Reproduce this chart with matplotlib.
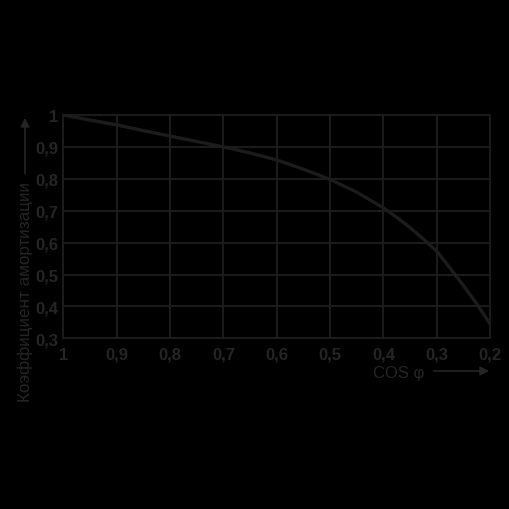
import matplotlib
matplotlib.use("Agg")
import matplotlib.pyplot as plt
from matplotlib.patches import FancyArrowPatch

# cos phi values and damping coefficient
cos_phi = [1.0, 0.95, 0.9, 0.85, 0.8, 0.75, 0.7, 0.65, 0.6, 0.55, 0.5,
           0.45, 0.4, 0.375, 0.35, 0.325, 0.3, 0.275, 0.25, 0.225, 0.2]
coef = [1.0, 0.984, 0.969, 0.951, 0.934, 0.917, 0.900, 0.881, 0.859, 0.830, 0.798,
        0.758, 0.709, 0.679, 0.647, 0.611, 0.573, 0.520, 0.465, 0.408, 0.345]

x_ticks = [1, 0.9, 0.8, 0.7, 0.6, 0.5, 0.4, 0.3, 0.2]
x_labels = ["1", "0,9", "0,8", "0,7", "0,6", "0,5", "0,4", "0,3", "0,2"]
y_ticks = [0.3, 0.4, 0.5, 0.6, 0.7, 0.8, 0.9, 1.0]
y_labels = ["0,3", "0,4", "0,5", "0,6", "0,7", "0,8", "0,9", "1"]

line_col = "#1c1c1c"
text_col = "#252525"

plt.rcParams['font.family'] = ['Liberation Sans', 'DejaVu Sans']

fig = plt.figure(figsize=(5.1, 5.1), dpi=100, facecolor="black")
ax = fig.add_axes([0.1245, 0.3347, 0.8365, 0.4378])
ax.set_facecolor("black")

ax.plot(cos_phi, coef, color=line_col, lw=2.4, solid_joinstyle="round")

ax.set_xlim(1, 0.2)
ax.set_ylim(0.3, 1.0)
ax.set_xticks(x_ticks)
ax.set_xticklabels(x_labels)
ax.set_yticks(y_ticks)
ax.set_yticklabels(y_labels)
ax.grid(True, color=line_col, lw=1.4)
ax.tick_params(axis="y", length=0, colors=text_col, labelsize=12, pad=4)
ax.tick_params(axis="x", length=0, colors=text_col, labelsize=12, pad=6)
for lab in ax.get_xticklabels() + ax.get_yticklabels():
    lab.set_fontweight("bold")
for s in ax.spines.values():
    s.set_color(line_col)
    s.set_linewidth(1.4)

# axis captions with arrows
fig.text(25 / 510, 1 - 292 / 510, "Коэффициент амортизации", rotation=90,
         ha="center", va="center", color=text_col, fontsize=12.3)
fig.add_artist(FancyArrowPatch(
    (25 / 510, 1 - 177 / 510), (25 / 510, 1 - 116 / 510),
    transform=fig.transFigure, arrowstyle="-|>", mutation_scale=13,
    color=text_col, lw=1.2))

fig.text(373 / 510, 1 - 374 / 510, "COS φ", ha="left", va="center",
         color=text_col, fontsize=12)
fig.add_artist(FancyArrowPatch(
    (431 / 510, 1 - 372 / 510), (492 / 510, 1 - 372 / 510),
    transform=fig.transFigure, arrowstyle="-|>", mutation_scale=13,
    color=text_col, lw=1.2))

fig.savefig("out.png", dpi=100, facecolor="black")
